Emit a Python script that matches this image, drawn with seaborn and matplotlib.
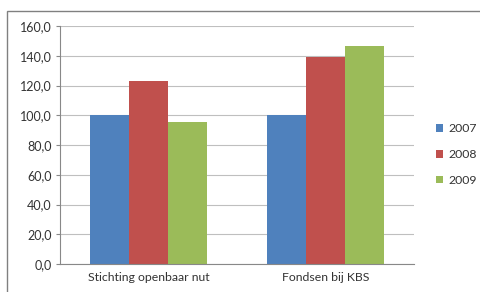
import pandas as pd
import matplotlib.pyplot as plt
import seaborn as sns
from matplotlib.patches import Rectangle

categories = ["Stichting openbaar nut", "Fondsen bij KBS"]
years = ["2007", "2008", "2009"]
values_2007 = [100.0, 100.0]
values_2008 = [123.0, 139.0]
values_2009 = [95.5, 146.5]
colors = ["#4F81BD", "#C0504D", "#9BBB59"]

df = pd.DataFrame({
    "categorie": categories * 3,
    "jaar": [y for y in years for _ in categories],
    "waarde": values_2007 + values_2008 + values_2009,
})

sns.set_style("white")
plt.rcParams["font.family"] = ["Lato", "DejaVu Sans"]

fig = plt.figure(figsize=(4.81, 2.92), dpi=100)
ax = fig.add_axes([0.1247, 0.0959, 0.7363, 0.815])

sns.barplot(data=df, x="categorie", y="waarde", hue="jaar", palette=colors,
            width=0.66, saturation=1, ax=ax, errorbar=None, linewidth=0)

ax.set_ylim(0, 160)
ax.set_xlim(-0.5, 1.5)
ax.set_yticks(range(0, 161, 20))
ax.set_yticklabels([f"{v},0" for v in range(0, 161, 20)], fontsize=9, color="#333333")
ax.tick_params(axis="x", labelsize=8.8, colors="#333333", length=0, pad=6)
ax.tick_params(axis="y", length=3, color="#888888", pad=3, left=True)
ax.set_xlabel("")
ax.set_ylabel("")
ax.yaxis.grid(True, color="#BFBFBF", linewidth=0.8)
ax.set_axisbelow(True)
for s in ["top", "right"]:
    ax.spines[s].set_visible(False)
ax.spines["left"].set_color("#888888")
ax.spines["bottom"].set_color("#888888")
ax.spines["left"].set_linewidth(0.8)
ax.spines["bottom"].set_linewidth(0.8)

leg = ax.legend(loc="center left", bbox_to_anchor=(1.03, 0.46), frameon=False,
                fontsize=8.8, handlelength=0.6, handleheight=0.6,
                handletextpad=0.4, labelspacing=1.2)
for t in leg.get_texts():
    t.set_color("#333333")

fig.patches.append(Rectangle((7 / 481, -0.1), 1.2, 1 - 11 / 292 + 0.1,
                             transform=fig.transFigure, fill=False,
                             edgecolor="#808080", linewidth=1))

fig.savefig("out.png", dpi=100)
